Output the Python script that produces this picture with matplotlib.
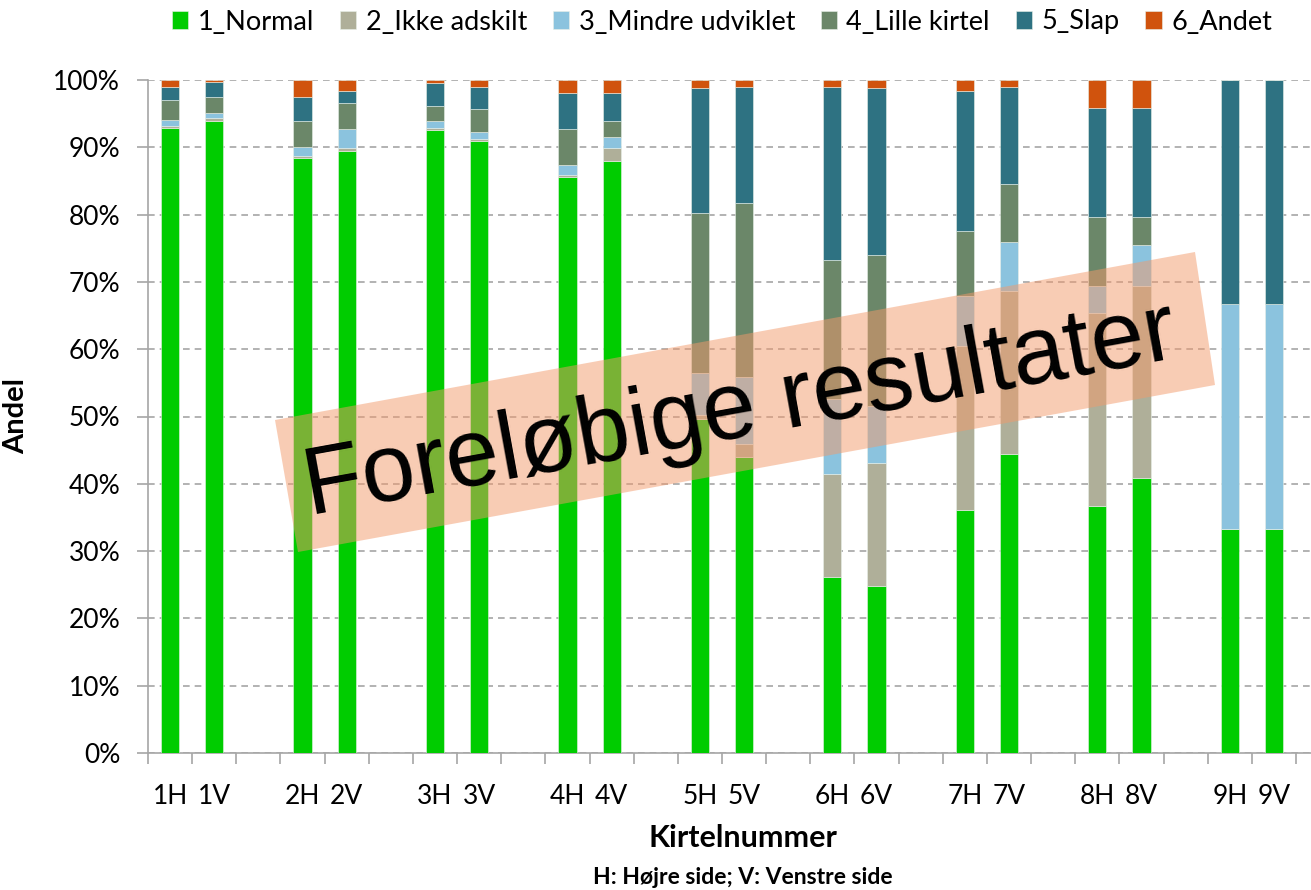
import matplotlib.pyplot as plt
from matplotlib.patches import Polygon
from matplotlib.ticker import PercentFormatter, FixedLocator

plt.rcParams["font.family"] = ["Lato", "DejaVu Sans"]

# data (percent per category, stacked)
labels = ['1H', '1V', '2H', '2V', '3H', '3V', '4H', '4V', '5H', '5V',
          '6H', '6V', '7H', '7V', '8H', '8V', '9H', '9V']
normal = [92.8, 93.9, 88.4, 89.5, 92.5, 90.9, 85.6, 87.9, 49.6, 44.0,
          26.2, 24.8, 36.1, 44.5, 36.7, 40.9, 33.3, 33.3]
ikke_adskilt = [0.4, 0.4, 0.3, 0.4, 0.4, 0.3, 0.3, 2.0, 0.6, 1.9,
                15.2, 18.3, 24.4, 24.1, 28.7, 28.5, 0.0, 0.0]
mindre_udviklet = [0.8, 0.8, 1.3, 2.8, 1.0, 1.0, 1.4, 1.7, 6.3, 9.9,
                   11.2, 8.5, 7.4, 7.4, 4.0, 6.1, 33.4, 33.4]
lille_kirtel = [3.1, 2.4, 3.9, 3.9, 2.2, 3.5, 5.4, 2.3, 23.8, 25.9,
                20.7, 22.4, 9.6, 8.6, 10.2, 4.1, 0.0, 0.0]
slap = [1.9, 2.2, 3.6, 1.7, 3.4, 3.3, 5.3, 4.1, 18.5, 17.3,
        25.7, 24.8, 20.8, 14.4, 16.3, 16.3, 33.3, 33.3]
andet = [1.0, 0.3, 2.5, 1.7, 0.5, 1.0, 2.0, 2.0, 1.2, 1.0,
         1.0, 1.2, 1.7, 1.0, 4.1, 4.1, 0.0, 0.0]

series = [normal, ikke_adskilt, mindre_udviklet, lille_kirtel, slap, andet]
names = ['1_Normal', '2_Ikke adskilt', '3_Mindre udviklet', '4_Lille kirtel', '5_Slap', '6_Andet']
colors = ['#00CC00', '#AFAF99', '#8BC3DE', '#6B8769', '#2E7282', '#D0530D']

W, H = 1311, 890
fig = plt.figure(figsize=(W / 100, H / 100), dpi=100)
ax = fig.add_axes([148 / W, 1 - 753 / H, (W - 148) / W, (753 - 80) / H])

# H/V pairs with an empty slot after each pair
x = [3 * (i // 2) + (i % 2) for i in range(len(labels))]
bottom = [0.0] * len(labels)
for vals, name, c in zip(series, names, colors):
    ax.bar(x, vals, width=0.41, bottom=bottom, color=c, label=name,
           edgecolor='#e8f0e8', linewidth=0.4, zorder=3)
    bottom = [b + v for b, v in zip(bottom, vals)]

ax.set_xlim(-0.5, 25.84)
ax.set_ylim(0, 100)
ax.set_yticks(range(0, 101, 10))
ax.yaxis.set_major_formatter(PercentFormatter(decimals=0))
ax.grid(axis='y', color='#a6a6a6', linestyle=(0, (4, 3)), linewidth=1.2, zorder=0)

ax.set_xticks(x)
ax.set_xticklabels(labels)
ax.xaxis.set_minor_locator(FixedLocator([i - 0.5 for i in range(27)]))
ax.tick_params(axis='x', which='major', length=0, pad=22, labelsize=19)
ax.tick_params(axis='x', which='minor', length=8, color='#a6a6a6', width=1.2)
ax.tick_params(axis='y', length=8, color='#a6a6a6', width=1.2, pad=12, labelsize=19)

for s in ['top', 'right']:
    ax.spines[s].set_visible(False)
for s in ['left', 'bottom']:
    ax.spines[s].set_color('#a6a6a6')
    ax.spines[s].set_linewidth(1.2)

ax.set_ylabel('Andel', fontsize=21, fontweight='bold')
ax.yaxis.set_label_coords(-0.102, 0.5)
fig.text(743 / W, 1 - 838 / H, 'Kirtelnummer', fontsize=22, fontweight='bold',
         ha='center', va='center')
fig.text(743 / W, 1 - 878 / H, 'H: Højre side; V: Venstre side', fontsize=16.5,
         fontweight='bold', ha='center', va='center')

fig.legend(loc='center', bbox_to_anchor=(722 / W, 1 - 22 / H), ncol=6, frameon=False,
           fontsize=19.5, handlelength=0.6, handleheight=0.6, handletextpad=0.35,
           columnspacing=0.95, borderaxespad=0)

# watermark band
corners = [(275, 420), (1195, 252), (1215, 385), (298, 552)]
band = Polygon([(cx / W, 1 - cy / H) for cx, cy in corners], closed=True,
               transform=fig.transFigure, facecolor='#F39A6B', alpha=0.5,
               edgecolor='none', zorder=5)
fig.add_artist(band)
fig.text(740 / W, 1 - 412 / H, 'Foreløbige resultater', fontsize=69,
         family='Liberation Sans', rotation=10.3, rotation_mode='anchor',
         ha='center', va='center', color='black', zorder=6)

fig.savefig('out.png', dpi=100)
